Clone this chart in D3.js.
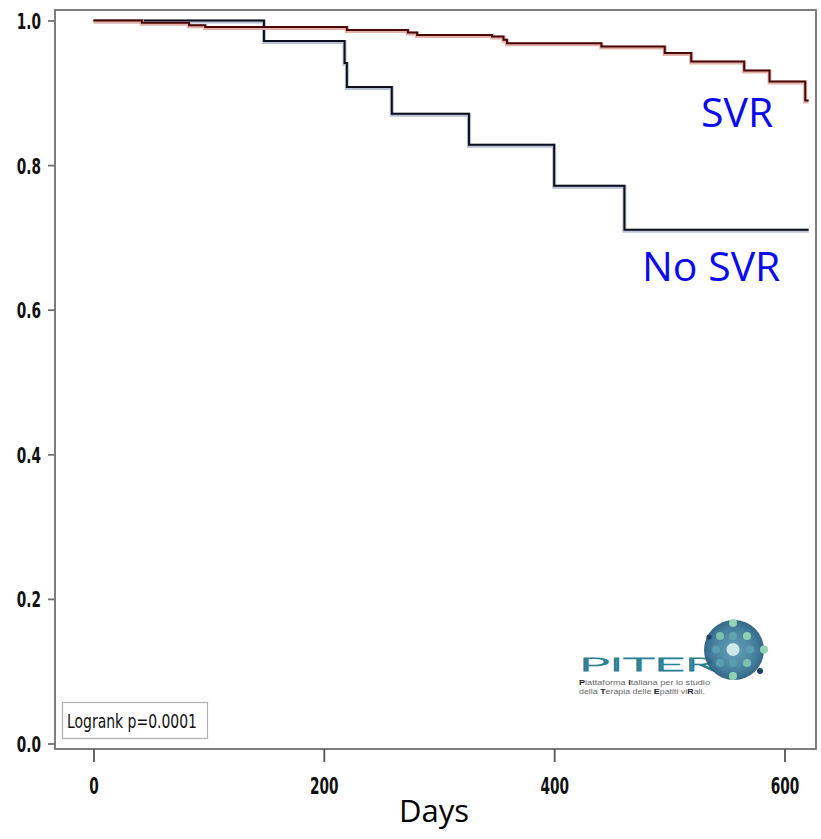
<!DOCTYPE html>
<html>
<head>
<meta charset="utf-8">
<script src="https://cdn.jsdelivr.net/npm/d3@7"></script>
<style>
  html, body { margin: 0; padding: 0; background: #fff; }
  svg { display: block; }
</style>
</head>
<body>
<svg id="chart" width="821" height="839"></svg>
<script>
// ---- data ----
const xTicks = [0, 200, 400, 600];
const yTicks = [0.0, 0.2, 0.4, 0.6, 0.8, 1.0];

const svrDays = [0, 42, 83, 97, 220, 273, 281, 346, 356, 359, 441, 496, 519, 565, 587, 618, 621];
const svrSurv = [1.0, 0.9968, 0.9936, 0.9909, 0.9867, 0.9834, 0.9798, 0.9779, 0.9733, 0.9687, 0.9640, 0.9549, 0.9433, 0.9309, 0.9156, 0.8893, 0.8893];

const noSvrDays = [0, 148, 218, 220, 259, 326, 400, 461, 621];
const noSvrSurv = [1.0, 0.9715, 0.9411, 0.9079, 0.8710, 0.8281, 0.7714, 0.7105, 0.7105];

const seriesLabels = ["SVR", "No SVR"];
const xTitle = "Days";
const statText = "Logrank p=0.0001";
const logoTitle = "PITER";

// ---- layout ----
const svg = d3.select("#chart");
const frame = {left: 55, top: 10, right: 816, bottom: 749};

const x = d3.scaleLinear().domain([0, 600]).range([93.5, 784.5]);
const y = d3.scaleLinear().domain([0, 1]).range([743.5, 20.5]);

const tickFont = "'Liberation Sans Narrow', 'Arial Narrow', 'DejaVu Sans Condensed', sans-serif";

// frame
svg.append("rect")
  .attr("x", frame.left).attr("y", frame.top)
  .attr("width", frame.right - frame.left).attr("height", frame.bottom - frame.top)
  .attr("fill", "none").attr("stroke", "#707070").attr("stroke-width", 1.8);

// y axis
const yAxis = svg.append("g")
  .attr("transform", `translate(${frame.left},0)`)
  .call(d3.axisLeft(y).tickValues(yTicks).tickFormat(d3.format(".1f")).tickSize(7));
yAxis.select(".domain").remove();
yAxis.selectAll(".tick line").attr("stroke", "#707070").attr("stroke-width", 1.8);
yAxis.selectAll(".tick text")
  .attr("x", null).attr("dy", null)
  .attr("transform", "translate(-14,8) scale(0.76,1.08)")
  .attr("text-anchor", "end")
  .style("font-family", tickFont).style("font-weight", "bold").style("font-size", "20px")
  .attr("fill", "#111");

// x axis
const xAxis = svg.append("g")
  .attr("transform", `translate(0,${frame.bottom})`)
  .call(d3.axisBottom(x).tickValues(xTicks).tickFormat(d3.format("d")).tickSize(13));
xAxis.select(".domain").remove();
xAxis.selectAll(".tick line").attr("stroke", "#555").attr("stroke-width", 1.8);
xAxis.selectAll(".tick text")
  .attr("y", null).attr("dy", null)
  .attr("transform", "translate(0,45) scale(0.76,1.12)")
  .attr("text-anchor", "middle")
  .style("font-family", tickFont).style("font-weight", "bold").style("font-size", "20px")
  .attr("fill", "#111");

// x title
svg.append("text")
  .attr("x", 434).attr("y", 822)
  .attr("text-anchor", "middle")
  .style("font-family", "'Open Sans', 'Noto Sans', sans-serif")
  .style("font-size", "31px")
  .attr("fill", "#000")
  .text(xTitle);

// ---- curves ----
const line = d3.line().x(d => x(d[0])).y(d => y(d[1])).curve(d3.curveStepAfter);
const svrPts = svrDays.map((d, i) => [d, svrSurv[i]]);
const noSvrPts = noSvrDays.map((d, i) => [d, noSvrSurv[i]]);

function drawCurve(pts, halo, core) {
  svg.append("path").datum(pts).attr("d", line)
    .attr("fill", "none").attr("stroke", halo).attr("stroke-width", 4).attr("transform", "translate(0,1)");
  svg.append("path").datum(pts).attr("d", line)
    .attr("fill", "none").attr("stroke", core).attr("stroke-width", 2);
}
drawCurve(noSvrPts, "#b9c0d6", "#0d0d1c");
drawCurve(svrPts, "#e3b0aa", "#4a0808");

// series labels
svg.append("text")
  .attr("x", 701).attr("y", 127)
  .style("font-family", "'Open Sans', 'Noto Sans', sans-serif")
  .style("font-size", "41px").attr("fill", "#0a0af0")
  .text(seriesLabels[0]);
svg.append("text")
  .attr("x", 642).attr("y", 281)
  .style("font-family", "'Open Sans', 'Noto Sans', sans-serif")
  .style("font-size", "41px").attr("fill", "#0a0af0")
  .text(seriesLabels[1]);

// logrank box
svg.append("rect")
  .attr("x", 62.5).attr("y", 702.5).attr("width", 145).attr("height", 36)
  .attr("fill", "#fff").attr("stroke", "#b0b0b0").attr("stroke-width", 1.2);
svg.append("text")
  .attr("x", 67).attr("y", 727.5)
  .attr("textLength", 130).attr("lengthAdjust", "spacingAndGlyphs")
  .style("font-family", tickFont).style("font-size", "19.5px")
  .attr("fill", "#111")
  .text(statText);

// ---- PITER logo ----
const logo = svg.append("g");
const defs = svg.append("defs");
const grad = defs.append("radialGradient").attr("id", "logoGrad");
grad.append("stop").attr("offset", "0%").attr("stop-color", "#5e9db6");
grad.append("stop").attr("offset", "75%").attr("stop-color", "#3a7797");
grad.append("stop").attr("offset", "100%").attr("stop-color", "#2a5f80");

logo.append("text")
  .attr("x", 579).attr("y", 671)
  .attr("textLength", 138).attr("lengthAdjust", "spacingAndGlyphs")
  .style("font-family", "'Lato', 'DejaVu Sans', sans-serif").style("font-weight", "300")
  .style("font-size", "17px")
  .attr("fill", "none").attr("stroke", "#2a7f92").attr("stroke-width", 0.8)
  .text(logoTitle);

logo.append("circle").attr("cx", 734).attr("cy", 650).attr("r", 30).attr("fill", "url(#logoGrad)").attr("opacity", 0.95);
const dots = [
  [733, 623, 4, "#93d3b4"],
  [720, 636, 4, "#7cc0b0"], [733, 636, 4, "#5ea5b0"], [747, 636, 4, "#8fd0b2"],
  [716, 649.5, 4, "#5a9fb0"], [733, 649.5, 6.5, "#cfe7ea"], [750, 649.5, 4, "#5a9fb0"], [764, 649.5, 4, "#93d3b4"],
  [720, 663, 4, "#5a9fb0"], [733, 663, 4, "#5a9fb0"], [747, 663, 4, "#7cc0b0"],
  [733, 676, 4, "#93d3b4"],
  [709, 637, 2.6, "#1c3f6e"], [760, 671, 3, "#1c3f6e"]
];
logo.selectAll("circle.dot").data(dots).join("circle").attr("class", "dot")
  .attr("cx", d => d[0]).attr("cy", d => d[1]).attr("r", d => d[2]).attr("fill", d => d[3]);

function sub(yPos, len, parts) {
  const t = logo.append("text").attr("x", 579).attr("y", yPos)
    .attr("textLength", len).attr("lengthAdjust", "spacingAndGlyphs")
    .style("font-family", "'Liberation Sans', Arial, sans-serif").style("font-size", "7.4px")
    .attr("fill", "#666");
  parts.forEach(p => t.append("tspan").style("font-weight", p[1] ? "bold" : "normal")
    .attr("fill", p[1] ? "#222" : "#666").text(p[0]));
}
sub(684.5, 131, [["P", 1], ["iattaforma ", 0], ["I", 1], ["taliana per lo studio", 0]]);
sub(693.5, 126, [["della ", 0], ["T", 1], ["erapia delle ", 0], ["E", 1], ["patiti vi", 0], ["R", 1], ["ali.", 0]]);
</script>
</body>
</html>
